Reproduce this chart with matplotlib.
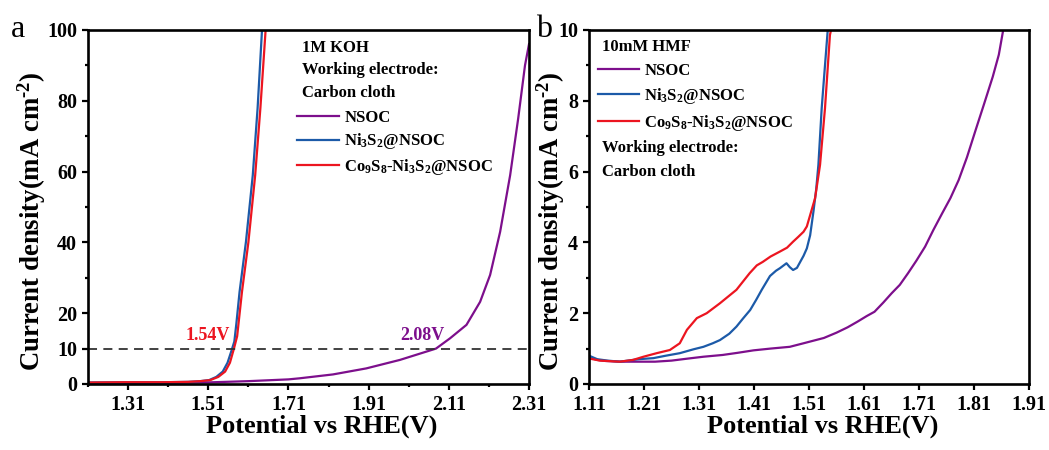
import matplotlib
matplotlib.use("Agg")
import matplotlib.pyplot as plt
from matplotlib.ticker import MultipleLocator, FixedLocator

plt.rcParams["font.family"] = ["Liberation Serif", "DejaVu Serif"]
plt.rcParams["font.weight"] = "bold"
plt.rcParams["mathtext.fontset"] = "custom"
plt.rcParams["mathtext.rm"] = "Liberation Serif:bold"
plt.rcParams["mathtext.it"] = "Liberation Serif:bold"
plt.rcParams["mathtext.bf"] = "Liberation Serif:bold"
plt.rcParams["mathtext.default"] = "rm"

PURPLE = "#7D0F8C"
BLUE = "#1C5AA8"
RED = "#EC1520"

# (a) LSV in 1M KOH
a_nsoc_v = [1.21, 1.31, 1.41, 1.51, 1.61, 1.71, 1.7375, 1.821, 1.904, 1.988, 2.078,
            2.113, 2.154, 2.188, 2.213, 2.238, 2.263, 2.283, 2.30, 2.31]
a_nsoc_j = [0.3, 0.3, 0.35, 0.45, 0.8, 1.3, 1.6, 2.7, 4.4, 6.8, 10.0,
            12.9, 16.7, 23.2, 30.8, 43.0, 59.0, 75.0, 90.0, 96.0]

a_ni_v = [1.21, 1.30, 1.40, 1.46, 1.49, 1.512, 1.530, 1.546, 1.558, 1.567, 1.575,
          1.580, 1.588, 1.604, 1.621, 1.633, 1.644]
a_ni_j = [0.4, 0.5, 0.5, 0.6, 0.8, 1.1, 2.0, 3.5, 6.0, 9.1, 12.0,
          17.0, 26.0, 40.2, 59.0, 77.9, 100.0]

a_co_v = [1.21, 1.30, 1.40, 1.46, 1.49, 1.515, 1.535, 1.552, 1.564, 1.574, 1.582,
          1.594, 1.610, 1.627, 1.640, 1.653]
a_co_j = [0.4, 0.5, 0.5, 0.6, 0.8, 1.1, 2.0, 3.5, 6.0, 10.0, 13.5,
          26.0, 40.0, 59.0, 78.0, 100.0]

# (b) LSV in 10mM HMF
b_nsoc_v = [1.11, 1.125, 1.14, 1.168, 1.20, 1.23, 1.26, 1.291, 1.318, 1.353, 1.38,
            1.409, 1.44, 1.475, 1.50, 1.537, 1.56, 1.58, 1.598, 1.615, 1.629, 1.645,
            1.66, 1.675, 1.69, 1.705, 1.721, 1.736, 1.752, 1.767, 1.782, 1.797,
            1.813, 1.828, 1.844, 1.855, 1.863]
b_nsoc_j = [0.75, 0.68, 0.65, 0.63, 0.63, 0.63, 0.66, 0.72, 0.77, 0.82, 0.88,
            0.95, 1.00, 1.05, 1.15, 1.30, 1.45, 1.60, 1.76, 1.92, 2.04, 2.30,
            2.56, 2.80, 3.13, 3.48, 3.88, 4.35, 4.82, 5.25, 5.76, 6.40,
            7.18, 7.90, 8.68, 9.30, 10.0]

b_ni_v = [1.11, 1.125, 1.144, 1.166, 1.20, 1.227, 1.25, 1.275, 1.30, 1.318, 1.335,
          1.348, 1.365, 1.378, 1.39, 1.403, 1.414, 1.424, 1.439, 1.45, 1.457, 1.469,
          1.475, 1.481, 1.488, 1.494, 1.50, 1.506, 1.512, 1.518, 1.523, 1.527,
          1.533, 1.538, 1.544]
b_ni_j = [0.80, 0.70, 0.66, 0.63, 0.70, 0.73, 0.80, 0.87, 0.98, 1.05, 1.15,
          1.24, 1.42, 1.62, 1.85, 2.09, 2.38, 2.66, 3.05, 3.20, 3.27, 3.41,
          3.30, 3.22, 3.28, 3.45, 3.62, 3.83, 4.20, 4.87, 5.50, 6.19,
          7.79, 8.80, 10.0]

b_co_v = [1.11, 1.13, 1.166, 1.19, 1.209, 1.233, 1.257, 1.275, 1.288, 1.306, 1.324,
          1.348, 1.378, 1.402, 1.415, 1.426, 1.44, 1.457, 1.47, 1.481, 1.49, 1.50,
          1.506, 1.512, 1.521, 1.53, 1.539, 1.548, 1.550]
b_co_j = [0.72, 0.66, 0.63, 0.68, 0.77, 0.87, 0.96, 1.15, 1.53, 1.86, 2.00,
          2.28, 2.66, 3.13, 3.35, 3.45, 3.60, 3.74, 3.85, 4.02, 4.15, 4.30,
          4.45, 4.77, 5.25, 6.19, 7.79, 9.86, 10.0]

labels = ["NSOC", "Ni$_3$S$_2$@NSOC", "Co$_9$S$_8$-Ni$_3$S$_2$@NSOC"]
colors = [PURPLE, BLUE, RED]

fig = plt.figure(figsize=(10.49, 4.5), dpi=100)
ax1 = fig.add_axes([0.0839, 0.1467, 0.4204, 0.7867])
ax2 = fig.add_axes([0.5615, 0.1467, 0.4195, 0.7867])


def style_axes(ax, ylabel_x):
    for s in ax.spines.values():
        s.set_linewidth(1.9)
    ax.tick_params(which="both", direction="out", top=False, right=False,
                   width=1.6, labelsize=14.5)
    ax.tick_params(which="major", length=4.5)
    ax.tick_params(which="minor", length=2.5)
    ax.tick_params(axis="x", pad=3.5)
    for t in ax.get_xticklabels() + ax.get_yticklabels():
        t.set_fontweight("bold")
    ax.set_xlabel("Potential vs RHE(V)", fontsize=19, fontweight="bold")
    ax.set_ylabel("Current density(mA cm$^{\u2010 2}$)", fontsize=19.3, fontweight="bold")
    ax.xaxis.set_label_coords(0.53, -0.087)
    ax.yaxis.set_label_coords(ylabel_x, 0.459)


# panel a
for v, j, c, lab in zip([a_nsoc_v, a_ni_v, a_co_v], [a_nsoc_j, a_ni_j, a_co_j], colors, labels):
    ax1.plot(v, j, color=c, lw=1.6, label=lab)
ax1.axhline(10, color="#333333", lw=1.3, ls=(0, (5, 3.5)))
ax1.set_xlim(1.21, 2.31)
ax1.set_ylim(0, 100)
ax1.xaxis.set_major_locator(FixedLocator([1.31, 1.51, 1.71, 1.91, 2.11, 2.31]))
ax1.xaxis.set_minor_locator(FixedLocator([1.21, 1.41, 1.61, 1.81, 2.01, 2.21]))
ax1.yaxis.set_major_locator(FixedLocator([0, 10, 20, 40, 60, 80, 100]))
ax1.yaxis.set_minor_locator(FixedLocator([30, 50, 70, 90]))
ax1.set_xticklabels(["1.31", "1.51", "1.71", "1.91", "2.11", "2.31"])
style_axes(ax1, -0.090)
ax1.text(1.508, 13.8, "1.54V", color=RED, fontsize=13, fontweight="bold",
         ha="center", va="center")
ax1.text(2.044, 13.6, "2.08V", color=PURPLE, fontsize=13, fontweight="bold",
         ha="center", va="center")
for y, s in zip([0.950, 0.887, 0.821], ["1M KOH", "Working electrode:", "Carbon cloth"]):
    ax1.text(0.485, y, s, transform=ax1.transAxes, fontsize=12, fontweight="bold",
             va="center", ha="left")
ax1.legend(loc="upper left", bbox_to_anchor=(0.475, 0.775), frameon=False,
           fontsize=12, handlelength=2.5, handletextpad=0.3, labelspacing=0.35,
           borderpad=0, borderaxespad=0)

# panel b
for v, j, c, lab in zip([b_nsoc_v, b_ni_v, b_co_v], [b_nsoc_j, b_ni_j, b_co_j], colors, labels):
    ax2.plot(v, j, color=c, lw=1.6, label=lab)
ax2.set_xlim(1.11, 1.91)
ax2.set_ylim(0, 10)
ax2.xaxis.set_major_locator(FixedLocator([1.11, 1.21, 1.31, 1.41, 1.51, 1.61, 1.71, 1.81, 1.91]))
ax2.set_xticklabels(["1.11", "1.21", "1.31", "1.41", "1.51", "1.61", "1.71", "1.81", "1.91"])
ax2.yaxis.set_major_locator(MultipleLocator(2))
ax2.yaxis.set_minor_locator(FixedLocator([1, 3, 5, 7, 9]))
style_axes(ax2, -0.050)
ax2.text(0.029, 0.953, "10mM HMF", transform=ax2.transAxes, fontsize=12,
         fontweight="bold", va="center", ha="left")
for y, s in zip([0.666, 0.600], ["Working electrode:", "Carbon cloth"]):
    ax2.text(0.029, y, s, transform=ax2.transAxes, fontsize=12, fontweight="bold",
             va="center", ha="left")
ax2.legend(loc="upper left", bbox_to_anchor=(0.020, 0.906), frameon=False,
           fontsize=12, handlelength=2.5, handletextpad=0.3, labelspacing=0.42,
           borderpad=0, borderaxespad=0)

fig.text(0.017, 0.935, "a", fontsize=23, fontweight="normal", ha="center", va="center")
fig.text(0.519, 0.935, "b", fontsize=23, fontweight="normal", ha="center", va="center")

fig.savefig("out.png", dpi=100)
